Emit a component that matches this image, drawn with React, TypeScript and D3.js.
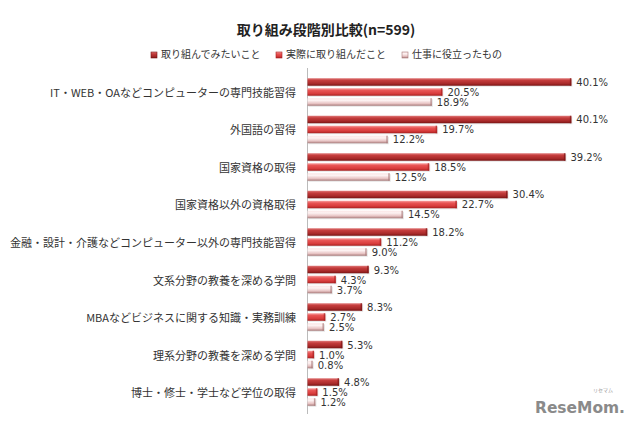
import React from "react";
import * as d3 from "d3";

const categories = [
  "IT・WEB・OAなどコンピューターの専門技能習得",
  "外国語の習得",
  "国家資格の取得",
  "国家資格以外の資格取得",
  "金融・設計・介護などコンピューター以外の専門技能習得",
  "文系分野の教養を深める学問",
  "MBAなどビジネスに関する知識・実務訓練",
  "理系分野の教養を深める学問",
  "博士・修士・学士など学位の取得",
];
const seriesNames = ["取り組んでみたいこと", "実際に取り組んだこと", "仕事に役立ったもの"];
const wantToDo = [40.1, 40.1, 39.2, 30.4, 18.2, 9.3, 8.3, 5.3, 4.8];
const actuallyDid = [20.5, 19.7, 18.5, 22.7, 11.2, 4.3, 2.7, 1.0, 1.5];
const useful = [18.9, 12.2, 12.5, 14.5, 9.0, 3.7, 2.5, 0.8, 1.2];
const seriesValues = [wantToDo, actuallyDid, useful];
const title = "取り組み段階別比較(n=599)";

const gradients = [
  { id: "g0", stops: ["#e07a7a", "#c43c3c", "#a82a2a", "#7a1414"], legend: "#b83030" },
  { id: "g1", stops: ["#f8a0a0", "#e85454", "#d83c3c", "#a82020"], legend: "#e04848" },
  { id: "g2", stops: ["#fbe6e6", "#fdf2f2", "#e8c4c4", "#a87a7a"], legend: "#c89898" },
];

const FONT = "'Noto Sans CJK JP', 'DejaVu Sans', sans-serif";

export default function App() {
  const W = 640, H = 426;
  const x = d3.scaleLinear().domain([0, 45]).range([307.5, 307.5 + 45 * 6.58]);
  const y = d3
    .scaleBand<string>()
    .domain(categories)
    .range([73.25, 410.75])
    .paddingInner(0.267)
    .paddingOuter(0.133);
  const sub = d3
    .scaleBand<number>()
    .domain([0, 1, 2])
    .range([0, y.bandwidth()])
    .paddingInner(0.25);

  return (
    <svg width={W} height={H} style={{ position: "absolute", left: 0, top: 0, background: "#fff" }}>
      <defs>
        {gradients.map((g) => (
          <linearGradient key={g.id} id={g.id} x1="0" y1="0" x2="0" y2="1">
            <stop offset="0%" stopColor={g.stops[0]} />
            <stop offset="30%" stopColor={g.stops[1]} />
            <stop offset="70%" stopColor={g.stops[2]} />
            <stop offset="100%" stopColor={g.stops[3]} />
          </linearGradient>
        ))}
      </defs>
      <rect x={0} y={0} width={W} height={H} fill="#fff" />
      <text x={326} y={35} textAnchor="middle" fontFamily={FONT} fontWeight="bold" fontSize={14} fill="#222">
        {title}
      </text>
      {/* legend */}
      {seriesNames.map((s, i) => {
        const lx = [151, 276, 402][i];
        return (
          <g key={s}>
            <rect x={lx} y={52} width={6} height={6} fill={`url(#${gradients[i].id})`} stroke={gradients[i].stops[3]} strokeWidth={0.6} />
            <text x={lx + 10} y={57.5} fontFamily={FONT} fontSize={10} fill="#333">
              {s}
            </text>
          </g>
        );
      })}
      {/* axis line */}
      <line x1={307.5} x2={307.5} y1={68} y2={414} stroke="#bbb" strokeWidth={1} />
      {categories.map((c) => (
        <text
          key={c}
          x={296}
          y={(y(c) ?? 0) + y.bandwidth() / 2}
          textAnchor="end"
          dominantBaseline="central"
          fontFamily={FONT}
          fontSize={11}
          fill="#333"
        >
          {c}
        </text>
      ))}
      {categories.map((c, ci) =>
        seriesValues.map((vals, si) => {
          const v = vals[ci];
          const by = (y(c) ?? 0) + (sub(si) ?? 0);
          const bw = x(v) - x(0);
          const bh = sub.bandwidth();
          return (
            <g key={c + si}>
              <rect x={x(0) + 1} y={by + 1} width={bw} height={bh} fill="#ccc" opacity={0.5} />
              <rect x={x(0)} y={by} width={bw} height={bh} fill={`url(#${gradients[si].id})`} />
              <rect x={x(v) - 1.5} y={by} width={1.5} height={bh} fill={gradients[si].stops[3]} opacity={0.7} />
              <text
                x={x(v) + 5}
                y={by + bh / 2 + 0.5}
                dominantBaseline="central"
                fontFamily="'DejaVu Sans', sans-serif"
                fontSize={10}
                fill="#333"
              >
                {v.toFixed(1)}%
              </text>
            </g>
          );
        })
      )}
      {/* watermark */}
      <text x={603} y={392} textAnchor="middle" fontFamily={FONT} fontSize={5} fill="#999">リセマム</text>
      <text x={535} y={413} fontFamily="'DejaVu Sans', sans-serif" fontWeight="bold" fontSize={16} fill="#8a8a8a" textLength={90} lengthAdjust="spacingAndGlyphs">
        ReseMom.
      </text>
    </svg>
  );
}
